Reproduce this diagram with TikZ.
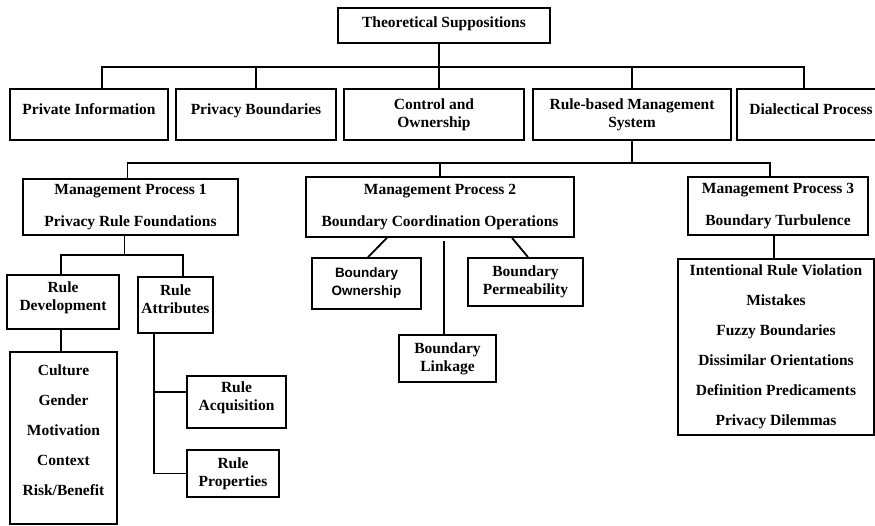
\documentclass[tikz,border=0pt]{standalone}
\usepackage{fontspec}
\setmainfont{Liberation Serif}
\newfontfamily\boxsans{Liberation Sans}
\usetikzlibrary{calc}

\tikzset{
  box/.style={draw, line width=1.8pt, inner sep=2pt, align=center,
    font=\fontsize{15.5}{18}\selectfont\bfseries},
  sbox/.style={box, font=\fontsize{13.5}{18}\selectfont\boxsans\bfseries},
  link/.style={line width=1.8pt},
}

\begin{document}
\begin{tikzpicture}[x=1pt, y=-1pt]
		\useasboundingbox (0,0) rectangle (875,525);

		% Top
		\node[box, minimum width=212pt, minimum height=35pt, text depth=7pt] (ts) at (444,25.5) {Theoretical Suppositions};

		% Suppositions
		\node[box, minimum width=158pt, minimum height=51pt, text depth=10pt] (pinfo) at (89,114.5) {Private Information};
		\node[box, minimum width=160pt, minimum height=51pt, text depth=10pt] (pbound) at (256,114.5) {Privacy Boundaries};
		\node[box, minimum width=180pt, minimum height=51pt] (control) at (434,114.5) {Control and\\Ownership};
		\node[box, minimum width=198pt, minimum height=51pt] (rbms) at (632,114.5) {Rule-based Management\\System};
		\node[box, minimum width=148pt, minimum height=51pt, text depth=10pt] (dial) at (811,114.5) {Dialectical Process};

		% Management processes
		\node[box, minimum width=215pt, minimum height=56pt] (mpa) at (130.5,207) {Management Process 1\\[14pt]Privacy Rule Foundations};
		\node[box, minimum width=268pt, minimum height=60pt] (mpb) at (440,207) {Management Process 2\\[14pt]Boundary Coordination Operations};
		\node[box, minimum width=180pt, minimum height=58pt] (mpc) at (778,206) {Management Process 3\\[14pt]Boundary Turbulence};

		% Process 1
		\node[box, minimum width=112pt, minimum height=54pt, text depth=11pt] (rdev) at (63,302) {Rule\\Development};
		\node[box, minimum width=75pt, minimum height=56pt, text depth=11pt] (rattr) at (175.5,305) {Rule\\Attributes};
		\node[box, minimum width=107pt, minimum height=172pt, text depth=16pt] (rdlist) at (63.5,438) {Culture\\[12pt]Gender\\[12pt]Motivation\\[12pt]Context\\[12pt]Risk/Benefit};
		\node[box, minimum width=99pt, minimum height=52pt, text depth=12pt] (racq) at (236.5,402) {Rule\\Acquisition};
		\node[box, minimum width=92pt, minimum height=47pt] (rprop) at (233,473.5) {Rule\\Properties};

		% Process 2
		\node[sbox, minimum width=109pt, minimum height=51pt] (bown) at (366.5,283.5) {Boundary\\Ownership};
		\node[box, minimum width=115pt, minimum height=48pt] (bperm) at (525.5,282) {Boundary\\Permeability};
		\node[box, minimum width=97pt, minimum height=47pt] (blink) at (447.5,358.5) {Boundary\\Linkage};

		% Process 3
		\node[box, minimum width=196pt, minimum height=176pt] (tlist) at (776,347) {Intentional Rule Violation\\[12pt]Mistakes\\[12pt]Fuzzy Boundaries\\[12pt]Dissimilar Orientations\\[12pt]Definition Predicaments\\[12pt]Privacy Dilemmas};

		% Connectors
		\coordinate (busA) at (0,67);
		\coordinate (busB) at (0,163);
		\coordinate (forkA) at (0,255);
		\draw[link] ([xshift=-5pt]ts.south) -- ([xshift=5pt]control.north);
		\draw[link] ([xshift=13pt]pinfo.north) |- ([xshift=-7pt]dial.north |- busA) -- ([xshift=-7pt]dial.north);
		\foreach \n in {pbound,rbms}
			\draw[link] (\n.north) -- (\n.north |- busA);

		\draw[link] (rbms.south) -- (rbms.south |- busB);
		\draw[link] ([xshift=-3pt]mpa.north) |- ([xshift=-8pt]mpc.north |- busB) -- ([xshift=-8pt]mpc.north);
		\draw[link] (mpb.north) -- (mpb.north |- busB);

		\draw[link] ([xshift=-6pt]mpa.south) -- ([xshift=-6pt]mpa.south |- forkA);
		\draw[link] ([xshift=-2pt]rdev.north) |- ([xshift=7.5pt]rattr.north |- forkA) -- ([xshift=7.5pt]rattr.north);
		\draw[link] ([xshift=-2pt]rdev.south) -- ([xshift=-2pt]rdev.south |- rdlist.north);
		\coordinate (rstem) at ([xshift=-21.5pt]rattr.south);
		\coordinate (acqjoin) at ([yshift=10pt]racq.west);
		\draw[link] (rstem) |- (rprop.west);
		\draw[link] (acqjoin) -- (acqjoin -| rstem);

		\draw[link] ([xshift=-53pt]mpb.south) -- ([xshift=1.5pt]bown.north);
		\draw[link] ([xshift=72pt]mpb.south) -- ([xshift=2.5pt]bperm.north);
		\draw[link] ([xshift=4pt,yshift=-3pt]mpb.south) -- ([xshift=-3.5pt]blink.north);

		\draw[link] ([xshift=-4pt]mpc.south) -- ([xshift=-4pt]mpc.south |- tlist.north);
	\end{tikzpicture}
\end{document}
